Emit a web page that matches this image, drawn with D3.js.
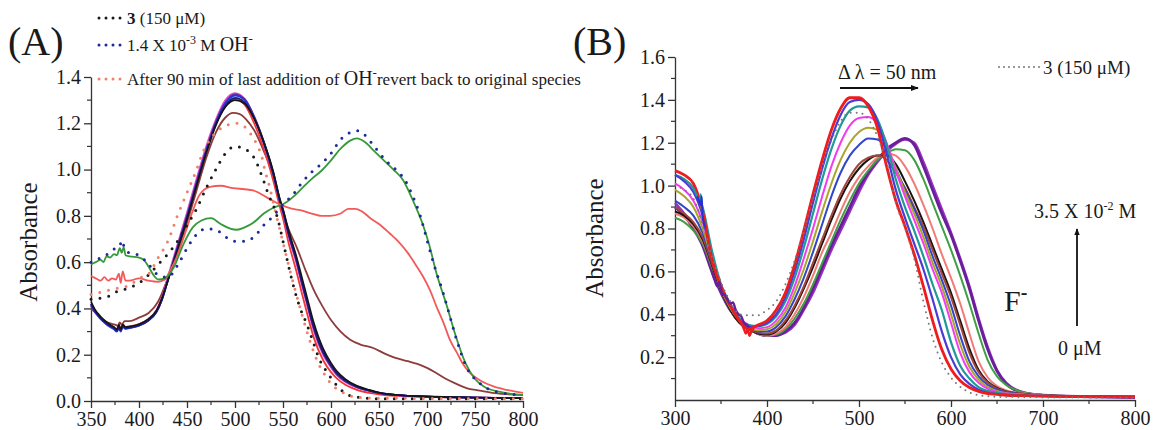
<!DOCTYPE html>
<html><head><meta charset="utf-8">
<script src="https://cdn.jsdelivr.net/npm/d3@7"></script>
<style>
body{margin:0;background:#fff}
svg{display:block}
text{font-family:"Liberation Serif","Times New Roman",serif;fill:#1a1a1a}
</style></head>
<body><svg id="c" width="1154" height="430"></svg>
<script>
// ---------------- Panel A data ----------------
const ticksAx = [350,400,450,500,550,600,650,700,750,800];
const ticksAy = [0.0,0.2,0.4,0.6,0.8,1.0,1.2,1.4];
const A_dye3 = [[350,0.44],[360,0.445],[365,0.45],[370,0.455],[375,0.47],[380,0.475],[390,0.49],[400,0.51],[410,0.545],[420,0.59],[430,0.635],[440,0.69],[450,0.76],[460,0.83],[470,0.92],[480,1.00],[490,1.07],[500,1.10],[510,1.09],[520,1.05],[530,0.95],[535,0.89],[540,0.845],[545,0.78],[550,0.69],[556,0.58],[562,0.48],[568,0.40],[575,0.33],[581,0.26],[588,0.18],[595,0.13],[600,0.10],[610,0.05],[618,0.026],[630,0.015],[650,0.01],[700,0.01],[800,0.01]];
const A_OH = [[350,0.60],[355,0.605],[360,0.62],[365,0.63],[370,0.64],[375,0.66],[380,0.67],[382,0.695],[385,0.66],[390,0.64],[400,0.63],[410,0.59],[420,0.545],[430,0.535],[440,0.585],[450,0.66],[460,0.72],[470,0.745],[480,0.74],[490,0.71],[500,0.69],[510,0.69],[520,0.71],[530,0.76],[540,0.80],[550,0.85],[560,0.89],[570,0.945],[580,0.99],[590,1.025],[600,1.07],[610,1.13],[620,1.16],[628,1.168],[635,1.15],[645,1.10],[658,1.035],[670,0.99],[677,0.955],[686,0.877],[693,0.80],[701,0.68],[708,0.58],[717,0.465],[724,0.364],[731,0.263],[741,0.148],[755,0.077],[772,0.04],[800,0.026]];
const A_revert = [[350,0.46],[360,0.47],[370,0.48],[380,0.49],[390,0.50],[400,0.53],[410,0.55],[420,0.62],[430,0.69],[440,0.80],[450,0.90],[460,1.00],[467,1.08],[474,1.13],[488,1.185],[502,1.20],[510,1.185],[517,1.15],[523,1.106],[528,1.055],[531,1.0],[536,0.925],[542,0.82],[548,0.72],[555,0.60],[562,0.49],[570,0.37],[578,0.26],[586,0.17],[594,0.11],[602,0.065],[609,0.045],[618,0.025],[630,0.015],[650,0.012],[800,0.01]];
const A_green = [[350,0.59],[355,0.60],[360,0.61],[363,0.60],[366,0.625],[370,0.62],[374,0.635],[377,0.63],[380,0.66],[382,0.64],[384,0.665],[386,0.63],[390,0.625],[400,0.62],[405,0.61],[410,0.58],[415,0.545],[420,0.525],[427,0.53],[436,0.575],[446,0.675],[456,0.75],[465,0.78],[475,0.79],[485,0.765],[495,0.745],[502,0.74],[510,0.75],[519,0.77],[530,0.81],[540,0.835],[550,0.85],[560,0.88],[570,0.92],[580,0.96],[590,0.995],[600,1.04],[610,1.09],[620,1.125],[627,1.135],[635,1.12],[645,1.08],[655,1.04],[665,1.00],[675,0.955],[685,0.87],[695,0.77],[702,0.68],[710,0.55],[720,0.42],[730,0.28],[740,0.165],[750,0.095],[760,0.06],[775,0.04],[800,0.025]];
const A_red = [[350,0.54],[355,0.53],[360,0.52],[364,0.535],[368,0.52],[372,0.53],[376,0.525],[379,0.55],[381,0.51],[383,0.56],[386,0.52],[390,0.52],[400,0.53],[410,0.52],[420,0.515],[427,0.525],[432,0.56],[439,0.62],[448,0.725],[455,0.81],[463,0.89],[474,0.925],[485,0.93],[498,0.92],[510,0.915],[519,0.91],[533,0.88],[549,0.845],[560,0.83],[568,0.825],[580,0.81],[590,0.80],[599,0.80],[610,0.81],[618,0.83],[625,0.83],[632,0.82],[641,0.79],[650,0.765],[661,0.725],[670,0.69],[680,0.64],[688,0.59],[696,0.537],[703,0.48],[710,0.407],[717,0.34],[724,0.263],[731,0.21],[737,0.163],[745,0.12],[755,0.09],[770,0.062],[783,0.048],[800,0.035]];
const A_brown = [[350,0.40],[355,0.38],[360,0.36],[365,0.345],[370,0.335],[375,0.33],[378,0.325],[380,0.34],[382,0.33],[385,0.345],[390,0.345],[400,0.36],[410,0.38],[420,0.43],[430,0.53],[440,0.64],[450,0.77],[460,0.91],[470,1.05],[480,1.16],[490,1.225],[498,1.245],[505,1.24],[512,1.215],[520,1.17],[530,1.08],[540,0.97],[547,0.85],[555,0.75],[564,0.667],[573,0.57],[582,0.48],[591,0.41],[600,0.35],[610,0.30],[620,0.265],[630,0.245],[644,0.229],[656,0.205],[668,0.185],[680,0.172],[690,0.16],[700,0.143],[710,0.12],[720,0.095],[730,0.075],[741,0.056],[755,0.045],[770,0.034],[800,0.026]];
const wlCluster = [350,355,360,365,370,374,377,379,381,383,386,390,400,410,418,424,430,440,450,460,470,480,490,500,510,520,530,540,547,550,556,564,570,575,582,592,600,606,615,627,640,651,670,700,750,800];
const A_navy = [0.42,0.385,0.36,0.34,0.325,0.315,0.305,0.32,0.305,0.325,0.315,0.318,0.328,0.35,0.385,0.44,0.52,0.655,0.79,0.935,1.075,1.195,1.275,1.31,1.29,1.22,1.115,0.98,0.86,0.82,0.72,0.61,0.51,0.43,0.32,0.21,0.155,0.12,0.088,0.062,0.045,0.034,0.025,0.019,0.015,0.012];
const A_black = [0.43,0.39,0.365,0.345,0.33,0.32,0.31,0.33,0.31,0.33,0.32,0.322,0.332,0.355,0.39,0.445,0.52,0.65,0.785,0.93,1.07,1.19,1.27,1.30,1.285,1.22,1.12,0.99,0.87,0.83,0.735,0.625,0.53,0.45,0.34,0.225,0.165,0.13,0.095,0.066,0.048,0.036,0.026,0.02,0.015,0.012];
const A_blue = [0.41,0.38,0.355,0.335,0.32,0.31,0.30,0.315,0.30,0.32,0.312,0.315,0.325,0.348,0.382,0.438,0.52,0.66,0.795,0.94,1.08,1.20,1.285,1.32,1.30,1.225,1.12,0.985,0.865,0.825,0.725,0.615,0.515,0.435,0.325,0.215,0.158,0.123,0.09,0.063,0.046,0.035,0.025,0.019,0.015,0.012];
const A_purple = [0.415,0.38,0.355,0.338,0.322,0.312,0.302,0.318,0.303,0.322,0.313,0.316,0.326,0.349,0.384,0.44,0.522,0.662,0.80,0.945,1.085,1.205,1.29,1.325,1.305,1.23,1.12,0.98,0.86,0.82,0.718,0.605,0.505,0.425,0.315,0.205,0.15,0.116,0.085,0.06,0.044,0.034,0.025,0.019,0.015,0.012];
const A_magenta = [0.42,0.385,0.36,0.34,0.326,0.316,0.306,0.322,0.306,0.326,0.316,0.32,0.33,0.353,0.39,0.45,0.535,0.675,0.815,0.96,1.10,1.215,1.30,1.33,1.305,1.225,1.11,0.975,0.855,0.815,0.71,0.595,0.495,0.415,0.305,0.198,0.145,0.112,0.082,0.058,0.043,0.033,0.024,0.019,0.015,0.012];
const A_red2 = [0.42,0.385,0.36,0.34,0.326,0.316,0.31,0.33,0.31,0.33,0.32,0.322,0.332,0.355,0.39,0.445,0.525,0.66,0.795,0.94,1.08,1.195,1.275,1.305,1.28,1.20,1.09,0.95,0.835,0.79,0.68,0.56,0.46,0.38,0.275,0.175,0.125,0.098,0.07,0.048,0.035,0.028,0.022,0.018,0.015,0.013];

// ---------------- Panel B data ----------------
const ticksBx = [300,400,500,600,700,800];
const ticksBy = [0.2,0.4,0.6,0.8,1.0,1.2,1.4,1.6];
const wlB = [300,310,320,330,340,350,360,370,380,390,400,410,420,430,440,450,460,470,480,490,500,510,520,530,540,550,560,570,580,590,600,610,620,630,640,650,660,680,700,750,800];
const B_dye3 = [1.00,0.98,0.94,0.82,0.67,0.55,0.46,0.40,0.395,0.395,0.42,0.46,0.54,0.65,0.79,0.94,1.08,1.21,1.30,1.34,1.34,1.31,1.23,1.11,0.92,0.80,0.66,0.46,0.29,0.175,0.105,0.062,0.035,0.022,0.018,0.015,0.014,0.013,0.012,0.011,0.01];
const B_red = [1.07,1.05,1.01,0.88,0.66,0.53,0.44,0.37,0.33,0.35,0.37,0.42,0.50,0.63,0.79,0.96,1.12,1.26,1.36,1.41,1.41,1.37,1.27,1.09,0.93,0.81,0.68,0.53,0.37,0.235,0.145,0.09,0.058,0.04,0.03,0.026,0.022,0.02,0.018,0.016,0.015];
const B_indigo = [1.05,1.02,0.97,0.86,0.66,0.53,0.44,0.37,0.34,0.345,0.36,0.40,0.48,0.60,0.75,0.92,1.08,1.22,1.33,1.39,1.40,1.38,1.30,1.15,0.98,0.85,0.73,0.61,0.47,0.32,0.20,0.12,0.075,0.048,0.034,0.028,0.024,0.021,0.018,0.016,0.015];
const B_teal = [1.05,1.03,0.99,0.90,0.70,0.54,0.45,0.38,0.35,0.345,0.355,0.39,0.46,0.57,0.71,0.87,1.03,1.17,1.28,1.35,1.37,1.365,1.31,1.19,1.03,0.90,0.79,0.67,0.54,0.42,0.27,0.16,0.10,0.06,0.042,0.033,0.027,0.022,0.019,0.016,0.015];
const B_magenta = [1.01,0.98,0.93,0.83,0.68,0.53,0.44,0.38,0.35,0.335,0.34,0.37,0.43,0.53,0.66,0.80,0.95,1.09,1.20,1.28,1.315,1.32,1.29,1.20,1.07,0.95,0.84,0.73,0.61,0.50,0.36,0.22,0.13,0.08,0.052,0.038,0.03,0.024,0.02,0.016,0.015];
const B_olive = [0.98,0.95,0.90,0.80,0.66,0.52,0.43,0.37,0.34,0.325,0.33,0.355,0.41,0.50,0.61,0.74,0.88,1.01,1.12,1.20,1.25,1.27,1.26,1.19,1.08,0.97,0.87,0.76,0.64,0.53,0.40,0.26,0.155,0.095,0.06,0.042,0.032,0.025,0.02,0.016,0.015];
const B_blue = [0.93,0.90,0.86,0.78,0.65,0.52,0.43,0.37,0.335,0.32,0.32,0.34,0.39,0.47,0.57,0.69,0.82,0.95,1.06,1.14,1.19,1.22,1.215,1.17,1.08,0.98,0.89,0.79,0.67,0.56,0.44,0.30,0.18,0.11,0.07,0.048,0.036,0.026,0.021,0.016,0.015];
const B_brown = [0.90,0.87,0.83,0.76,0.64,0.52,0.43,0.37,0.33,0.315,0.31,0.325,0.37,0.44,0.53,0.64,0.75,0.86,0.96,1.04,1.10,1.13,1.14,1.12,1.06,0.99,0.90,0.81,0.70,0.59,0.48,0.35,0.22,0.13,0.08,0.053,0.039,0.027,0.021,0.016,0.015];
const B_black = [0.88,0.86,0.82,0.75,0.63,0.51,0.42,0.36,0.33,0.31,0.305,0.32,0.36,0.43,0.52,0.62,0.73,0.84,0.94,1.02,1.08,1.12,1.14,1.14,1.10,1.02,0.93,0.83,0.72,0.61,0.50,0.37,0.24,0.14,0.085,0.056,0.04,0.028,0.021,0.016,0.015];
const B_salmon = [0.87,0.85,0.81,0.74,0.63,0.51,0.42,0.36,0.33,0.31,0.30,0.31,0.34,0.40,0.48,0.58,0.69,0.78,0.88,0.97,1.04,1.09,1.13,1.15,1.14,1.09,1.01,0.91,0.80,0.68,0.57,0.45,0.31,0.18,0.105,0.065,0.045,0.03,0.022,0.016,0.015];
const B_green = [0.85,0.83,0.79,0.73,0.62,0.51,0.42,0.36,0.33,0.31,0.30,0.305,0.33,0.38,0.45,0.54,0.64,0.74,0.84,0.93,1.01,1.07,1.12,1.15,1.17,1.165,1.12,1.03,0.92,0.81,0.70,0.58,0.45,0.31,0.185,0.11,0.07,0.035,0.023,0.016,0.014];
const B_purple = [0.90,0.86,0.80,0.72,0.60,0.50,0.42,0.37,0.34,0.31,0.30,0.30,0.32,0.36,0.43,0.52,0.62,0.72,0.81,0.90,0.99,1.06,1.12,1.17,1.20,1.22,1.19,1.09,0.98,0.87,0.77,0.65,0.52,0.37,0.235,0.135,0.075,0.032,0.022,0.015,0.012];
const B_violet = [0.92,0.87,0.81,0.73,0.61,0.51,0.43,0.375,0.34,0.31,0.305,0.305,0.315,0.35,0.42,0.50,0.60,0.70,0.79,0.88,0.97,1.05,1.11,1.16,1.195,1.215,1.20,1.11,1.00,0.89,0.78,0.66,0.53,0.38,0.245,0.14,0.08,0.034,0.023,0.016,0.012];
// jagged (noisy) stretches
const B_purpleNoise = [[340,0.60],[343,0.56],[346,0.53],[348,0.55],[351,0.50],[354,0.49],[357,0.47],[360,0.45],[363,0.455],[366,0.42],[369,0.40],[372,0.39],[375,0.36],[378,0.35],[381,0.34]];
const B_redNoise = [[366,0.40],[370,0.37],[373,0.35],[375,0.33],[377,0.31],[379,0.33],[381,0.30],[383,0.32],[386,0.34]];
const B_tealNoise = [[320,0.99],[323,0.96],[325,0.94],[327,0.93],[328,0.96],[329,0.89],[331,0.86]];
const B_indigoNoise = [[324,0.95],[326,0.93],[328,0.91],[329,0.95],[330,0.86],[333,0.80]];

// ---------------- drawing ----------------
const svg = d3.select("#c");
const serif = '"Liberation Serif","Times New Roman",serif';

function panel(g, xs, ys, xt, yt, xMinor, yMinor, yFmt){
  const xa = d3.axisBottom(xs).tickValues(xt).tickSize(7).tickSizeOuter(0).tickPadding(4).tickFormat(d3.format("d"));
  const ya = d3.axisLeft(ys).tickValues(yt).tickSize(7).tickSizeOuter(0).tickPadding(3).tickFormat(yFmt);
  const gx = g.append("g").attr("transform",`translate(0,${ys.range()[0]})`).call(xa);
  const gy = g.append("g").attr("transform",`translate(${xs.range()[0]},0)`).call(ya);
  [gx,gy].forEach(a=>{
    a.selectAll("path.domain").attr("stroke","#333").attr("stroke-width",1.3);
    a.selectAll("line").attr("stroke","#333").attr("stroke-width",1.3);
    a.selectAll("text").attr("font-family",serif).attr("font-size",20).attr("fill","#222");
  });
  // minor ticks
  g.append("g").selectAll("line").data(xMinor).join("line")
    .attr("x1",d=>xs(d)).attr("x2",d=>xs(d)).attr("y1",ys.range()[0]).attr("y2",ys.range()[0]+4)
    .attr("stroke","#333").attr("stroke-width",1.2);
  g.append("g").selectAll("line").data(yMinor).join("line")
    .attr("y1",d=>ys(d)).attr("y2",d=>ys(d)).attr("x1",xs.range()[0]).attr("x2",xs.range()[0]-4)
    .attr("stroke","#333").attr("stroke-width",1.2);
}

function draw(g, xs, ys, pts, color, width, dotted, gap){
  const line = d3.line().x(d=>xs(d[0])).y(d=>ys(d[1])).curve(d3.curveMonotoneX);
  const p = g.append("path").datum(pts).attr("d",line).attr("fill","none")
    .attr("stroke",color).attr("stroke-width",width).attr("stroke-linejoin","round");
  if(dotted){ p.attr("stroke-dasharray",`0 ${gap}`).attr("stroke-linecap","round"); }
}
const zip = (xs,vs)=>xs.map((x,i)=>[x,vs[i]]);

// Panel A
const xA = d3.scaleLinear().domain([350,800]).range([91,523]);
const yA = d3.scaleLinear().domain([0,1.4]).range([401,77]);
const gA = svg.append("g");
panel(gA,xA,yA,ticksAx,ticksAy,[375,425,475,525,575,625,675,725,775],[0.1,0.3,0.5,0.7,0.9,1.1,1.3],d3.format(".1f"));
draw(gA,xA,yA,A_brown,"#8e3b3b",1.8);
draw(gA,xA,yA,zip(wlCluster,A_red2),"#f23535",1.8);
draw(gA,xA,yA,zip(wlCluster,A_magenta),"#d94bd0",1.8);
draw(gA,xA,yA,zip(wlCluster,A_purple),"#6d2c95",1.8);
draw(gA,xA,yA,zip(wlCluster,A_blue),"#2436d6",1.8);
draw(gA,xA,yA,zip(wlCluster,A_navy),"#1a1a7a",1.8);
draw(gA,xA,yA,zip(wlCluster,A_black),"#151515",1.6);
draw(gA,xA,yA,A_red,"#f25a5a",1.8);
draw(gA,xA,yA,A_green,"#35993a",1.8);
draw(gA,xA,yA,A_dye3,"#1a1a1a",3,true,9);
draw(gA,xA,yA,A_revert,"#f0806c",3,true,9);
draw(gA,xA,yA,A_OH,"#1d2a9c",3,true,9);

gA.append("text").attr("transform","translate(37,242) rotate(-90)").attr("text-anchor","middle")
  .attr("font-size",25).text("Absorbance");
gA.append("text").attr("x",8).attr("y",55).attr("font-size",40).text("(A)");

// legend A
const legA = [
  {y:18, color:"#1a1a1a"},
  {y:45, color:"#1d2a9c"},
  {y:79, color:"#f0806c"}
];
legA.forEach(l=>{
  gA.append("line").attr("x1",99).attr("x2",121).attr("y1",l.y).attr("y2",l.y)
    .attr("stroke",l.color).attr("stroke-width",3).attr("stroke-dasharray","0 7").attr("stroke-linecap","round");
});
let t1 = gA.append("text").attr("x",127).attr("y",24).attr("font-size",17);
t1.append("tspan").attr("font-weight","bold").text("3");
t1.append("tspan").text(" (150 μM)");
let t2 = gA.append("text").attr("x",127).attr("y",51).attr("font-size",17);
t2.append("tspan").text("1.4 X 10");
t2.append("tspan").attr("dy",-7).attr("font-size",12).text("-3");
t2.append("tspan").attr("dy",7).text(" M ");
t2.append("tspan").attr("font-size",20).text("OH");
t2.append("tspan").attr("dy",-8).attr("font-size",13).text("-");
let t3 = gA.append("text").attr("x",127).attr("y",85).attr("font-size",17);
t3.append("tspan").text("After 90 min of last addition of ");
t3.append("tspan").attr("font-size",20).text("OH");
t3.append("tspan").attr("dy",-8).attr("font-size",13).text("-");
t3.append("tspan").attr("dy",8).text("revert back to original species");

// Panel B
const xB = d3.scaleLinear().domain([300,800]).range([675,1135]);
const yB = d3.scaleLinear().domain([0,1.6]).range([400,57]);
const gB = svg.append("g");
panel(gB,xB,yB,ticksBx,ticksBy,[350,450,550,650,750],[0.1,0.3,0.5,0.7,0.9,1.1,1.3,1.5],d3.format(".1f"));
const seriesB = [
  [B_violet,"#9a2fc4",2.6],
  [B_purple,"#6a1f9a",2.8],
  [B_green,"#3f9f45",2],
  [B_salmon,"#f27b78",2],
  [B_black,"#1c1414",2],
  [B_brown,"#a2463a",2],
  [B_blue,"#3146c8",2],
  [B_olive,"#a9a52c",2],
  [B_magenta,"#f23cf0",2],
  [B_teal,"#1f9a95",2.2],
  [B_indigo,"#4b3bd6",2.2],
  [B_red,"#ee1c1c",2.8]
];
seriesB.forEach(s=>draw(gB,xB,yB,zip(wlB,s[0]),s[1],s[2]));
draw(gB,xB,yB,B_purpleNoise,"#6a1f9a",2.4);
draw(gB,xB,yB,B_tealNoise,"#1f9a95",2);
draw(gB,xB,yB,B_indigoNoise,"#2430d0",2);
draw(gB,xB,yB,B_redNoise,"#ee1c1c",2.4);
draw(gB,xB,yB,zip(wlB,B_dye3),"#777",2,true,6);

gB.append("text").attr("transform","translate(603,238) rotate(-90)").attr("text-anchor","middle")
  .attr("font-size",25).text("Absorbance");
gB.append("text").attr("x",573).attr("y",55).attr("font-size",40).text("(B)");

// annotations B
const defs = svg.append("defs");
defs.append("marker").attr("id","ah").attr("viewBox","0 0 10 10").attr("refX",9).attr("refY",5)
  .attr("markerWidth",4).attr("markerHeight",4).attr("orient","auto")
  .append("path").attr("d","M0,1 L10,5 L0,9 Z").attr("fill","#111");
gB.append("text").attr("x",838).attr("y",79).attr("font-size",20).text("Δ λ = 50 nm");
gB.append("line").attr("x1",840).attr("x2",918).attr("y1",88).attr("y2",88)
  .attr("stroke","#111").attr("stroke-width",2).attr("marker-end","url(#ah)");
gB.append("line").attr("x1",999).attr("x2",1040).attr("y1",67).attr("y2",67)
  .attr("stroke","#777").attr("stroke-width",2).attr("stroke-dasharray","0 5").attr("stroke-linecap","round");
gB.append("text").attr("x",1043).attr("y",74).attr("font-size",19).text("3 (150 μM)");
let t4 = gB.append("text").attr("x",1034).attr("y",218).attr("font-size",20);
t4.append("tspan").text("3.5 X 10");
t4.append("tspan").attr("dy",-8).attr("font-size",12).text("-2");
t4.append("tspan").attr("dy",8).text(" M");
gB.append("line").attr("x1",1077).attr("x2",1077).attr("y1",326).attr("y2",229)
  .attr("stroke","#111").attr("stroke-width",1.8).attr("marker-end","url(#ah)");
gB.append("text").attr("x",1058).attr("y",355).attr("font-size",20).text("0 μM");
let t5 = gB.append("text").attr("x",1004).attr("y",311).attr("font-size",30);
t5.append("tspan").text("F");
t5.append("tspan").attr("dy",-12).attr("font-size",20).attr("font-weight","bold").text("-");
</script></body></html>
